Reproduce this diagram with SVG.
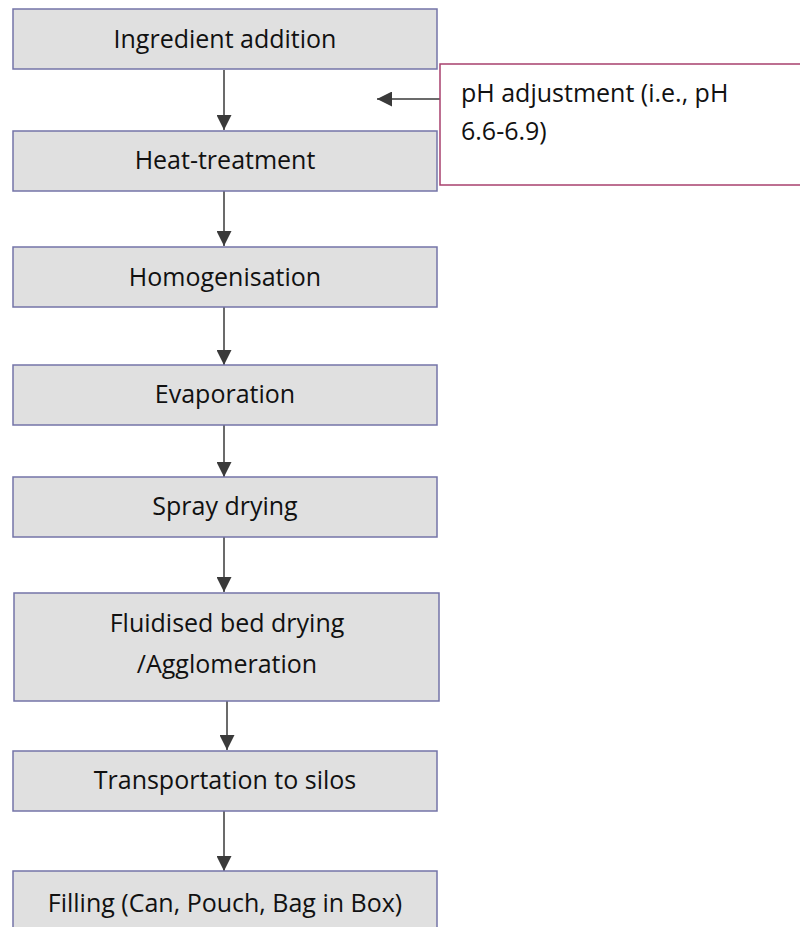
<svg xmlns="http://www.w3.org/2000/svg" width="800" height="927" viewBox="0 0 800 927">
<defs>
<marker id="ah" markerWidth="15" markerHeight="15" refX="15" refY="7.5" orient="auto" markerUnits="userSpaceOnUse" viewBox="0 0 15 15">
<path d="M0,0 L15,7.5 L0,15 z" fill="#3a3a3a"/>
</marker>
<style>
.box{fill:#e0e0e0;stroke:#7474a8;stroke-width:1.5}
.note{fill:#ffffff;stroke:#a8406e;stroke-width:1.5}
.t{font-family:"Open Sans","Liberation Sans",sans-serif;font-size:25px;fill:#111111}
.c{text-anchor:middle}
.con{stroke:#3a3a3a;stroke-width:1.5;fill:none;marker-end:url(#ah)}
</style>
</defs>
<g id="connectors">
<line class="con" x1="224" y1="70" x2="224" y2="130"/>
<line class="con" x1="224" y1="191" x2="224" y2="246"/>
<line class="con" x1="224" y1="307" x2="224" y2="365"/>
<line class="con" x1="224" y1="425" x2="224" y2="477"/>
<line class="con" x1="224" y1="537" x2="224" y2="592"/>
<line class="con" x1="227" y1="701" x2="227" y2="750"/>
<line class="con" x1="224" y1="811" x2="224" y2="871"/>
<line class="con" x1="440" y1="99" x2="377" y2="99"/>
</g>
<g id="n1"><rect class="box" x="13" y="9" width="424" height="60"/><text class="t c" x="225" y="48">Ingredient addition</text></g>
<g id="n2"><rect class="box" x="13" y="131" width="424" height="60"/><text class="t c" x="225" y="169">Heat-treatment</text></g>
<g id="n3"><rect class="box" x="13" y="247" width="424" height="60"/><text class="t c" x="225" y="286">Homogenisation</text></g>
<g id="n4"><rect class="box" x="13" y="365" width="424" height="60"/><text class="t c" x="225" y="403">Evaporation</text></g>
<g id="n5"><rect class="box" x="13" y="477" width="424" height="60"/><text class="t c" x="225" y="515">Spray drying</text></g>
<g id="n6"><rect class="box" x="14" y="593" width="425" height="108"/><text class="t c" x="227" y="632">Fluidised bed drying</text><text class="t c" x="227" y="673">/Agglomeration</text></g>
<g id="n7"><rect class="box" x="13" y="751" width="424" height="60"/><text class="t c" x="225" y="789">Transportation to silos</text></g>
<g id="n8"><rect class="box" x="13" y="871" width="424" height="60"/><text class="t c" x="225" y="912">Filling (Can, Pouch, Bag in Box)</text></g>
<g id="note"><rect class="note" x="440" y="64" width="370" height="121"/><text class="t" x="461" y="102">pH adjustment (i.e., pH</text><text class="t" x="461" y="140">6.6-6.9)</text></g>
</svg>
